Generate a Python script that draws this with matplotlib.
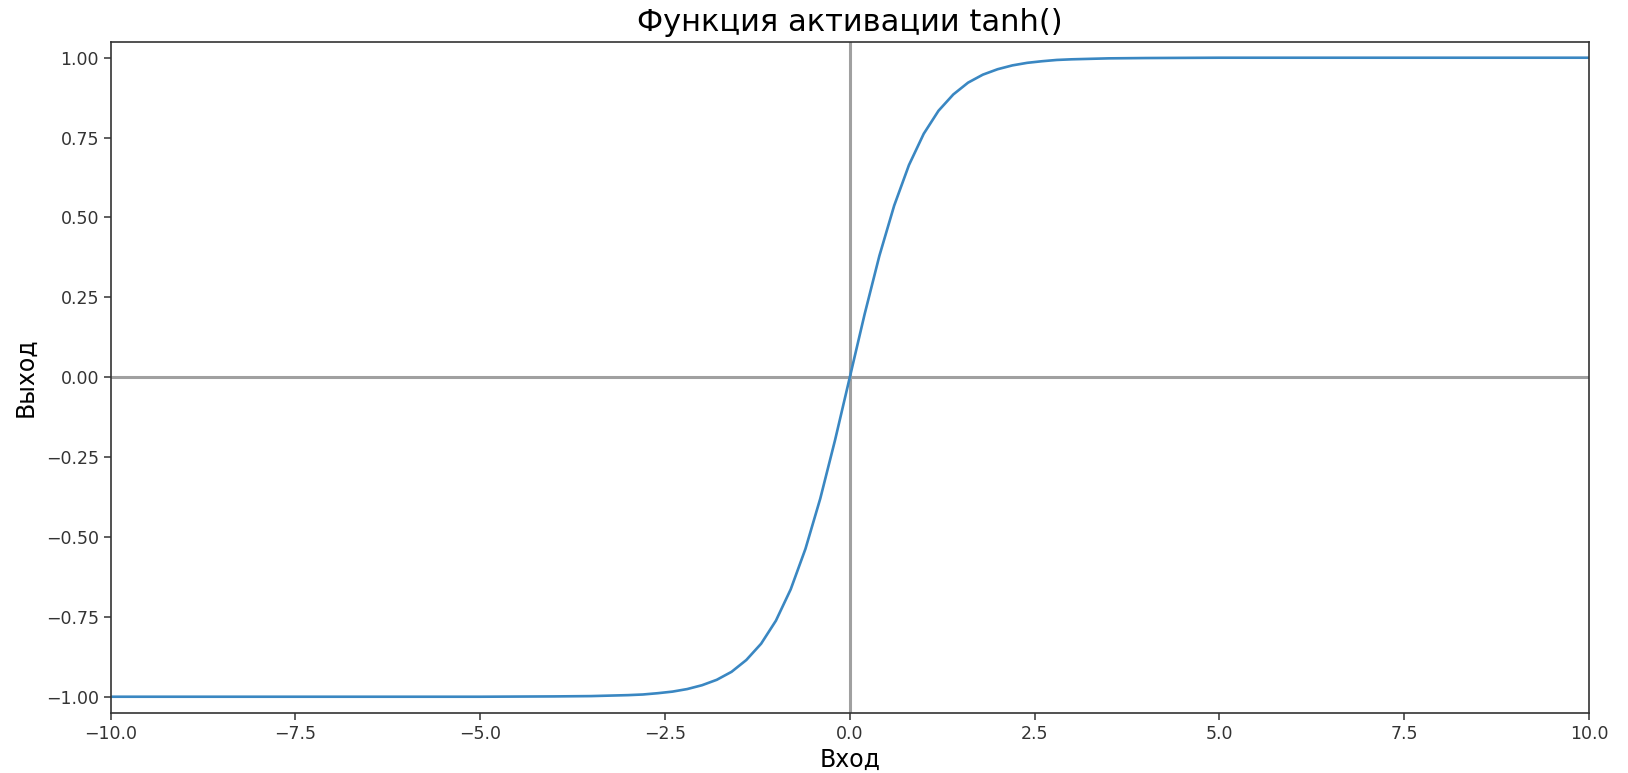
import matplotlib
matplotlib.use("Agg")
import matplotlib.pyplot as plt

# значения
x_in = [-10.0, -5.0, -4.0, -3.5, -3.0, -2.8, -2.6, -2.4, -2.2, -2.0, -1.8, -1.6, -1.4, -1.2,
        -1.0, -0.8, -0.6, -0.4, -0.2, 0.0, 0.2, 0.4, 0.6, 0.8, 1.0, 1.2, 1.4, 1.6, 1.8,
        2.0, 2.2, 2.4, 2.6, 2.8, 3.0, 3.5, 4.0, 5.0, 10.0]
y_out = [-1.0, -1.0, -0.999, -0.998, -0.995, -0.993, -0.989, -0.984, -0.976, -0.964, -0.947,
         -0.922, -0.885, -0.834, -0.762, -0.664, -0.537, -0.380, -0.197, 0.0, 0.197, 0.380,
         0.537, 0.664, 0.762, 0.834, 0.885, 0.922, 0.947, 0.964, 0.976, 0.984, 0.989, 0.993,
         0.995, 0.998, 0.999, 1.0, 1.0]
y_ticks = [-1.0, -0.75, -0.5, -0.25, 0.0, 0.25, 0.5, 0.75, 1.0]

fig, ax = plt.subplots(figsize=(16.28, 7.73), dpi=100)
ax.axhline(0, color="#a0a0a0", lw=2.2, zorder=1)
ax.axvline(0, color="#a0a0a0", lw=2.2, zorder=1)
ax.plot(x_in, y_out, color="#3a87c2", lw=1.9, zorder=2)

ax.set_xlim(-10, 10)
ax.set_ylim(-1.05, 1.05)
ax.set_yticks(y_ticks)
ax.tick_params(labelsize=12.5, length=5, width=1.1, colors="#333333")
for s in ax.spines.values():
    s.set_color("#333333"); s.set_linewidth(1.2)

ax.set_title("Функция активации tanh()", fontsize=22, pad=8)
ax.set_xlabel("Вход", fontsize=17, labelpad=4)
ax.set_ylabel("Выход", fontsize=17, labelpad=6)

fig.subplots_adjust(left=0.068, right=0.976, top=0.946, bottom=0.078)
fig.savefig("out.png", dpi=100)
